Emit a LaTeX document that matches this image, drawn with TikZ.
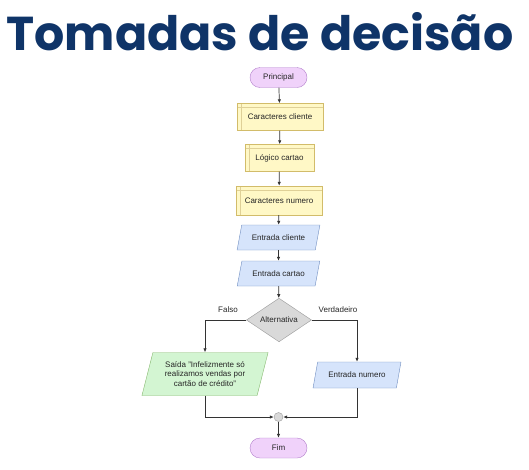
\documentclass[tikz,border=0pt]{standalone}
\usepackage{fontspec}
\setmainfont{Liberation Sans}
\newfontfamily\titlefont{Poppins}
\usetikzlibrary{shapes.geometric,arrows.meta}
\definecolor{titleblue}{HTML}{0F3468}
\definecolor{procfill}{HTML}{FFF8C6}
\definecolor{procline}{HTML}{D2BC6A}
\definecolor{iofill}{HTML}{D6E4FB}
\definecolor{ioline}{HTML}{6F8DC0}
\definecolor{outfill}{HTML}{D3F5D2}
\definecolor{outline}{HTML}{86B86F}
\definecolor{termfill}{HTML}{F0D2FA}
\definecolor{termline}{HTML}{B27FCC}
\definecolor{decfill}{HTML}{D9D9D9}
\definecolor{decline}{HTML}{9A9A9A}
\definecolor{wire}{HTML}{333333}
\begin{document}
\begin{tikzpicture}
   [
     x = 1pt, y = -1pt,
     every node/.style = {font=\fontsize{8}{9.5}\selectfont, text=black!85},
     flow/.style       = {draw=wire, line width=0.7pt, -{Latex[length=4pt,width=3.4pt]}},
     terminal/.style   = {draw=termline, fill=termfill, rounded corners=10pt,
                          minimum width=57pt, minimum height=20pt},
     procbox/.style    = {draw=procline, fill=procfill, minimum height=27pt,
                          path picture={
                            \draw[procline!70]
                              ([yshift=-4pt]path picture bounding box.north west) --
                              ([yshift=-4pt]path picture bounding box.north east);
                            \draw[procline!70]
                              ([xshift=4pt]path picture bounding box.north west) --
                              ([xshift=4pt]path picture bounding box.south west);}},
     inbox/.style      = {trapezium, trapezium left angle=75, trapezium right angle=105,
                          trapezium stretches=true, draw=ioline, fill=iofill,
                          minimum height=25pt, inner xsep=0pt},
     outbox/.style     = {inbox, draw=outline, fill=outfill, align=center},
     decision/.style   = {diamond, draw=decline, fill=decfill, inner sep=0pt,
                          minimum width=65pt, minimum height=41pt},
     joint/.style      = {circle, draw=decline, fill=decfill, minimum size=9pt, inner sep=0pt},
     branch/.style     = {font=\fontsize{8}{9.5}\selectfont}
   ]
    \useasboundingbox (0,0) rectangle (529,469);
    % title
    \node (title) at (260,32) {\titlefont\fontsize{47.5}{47.5}\selectfont\bfseries\color{titleblue}Tomadas de decisão};
    % main column
    \node [terminal] (principal) at (278.5,77.5) {Principal};
    \node [procbox, minimum width=86pt] (cliente) at (280,117) {Caracteres cliente};
    \node [procbox, minimum width=69pt] (logico) at (279.5,158) {Lógico cartao};
    \node [procbox, minimum width=86pt, minimum height=29pt] (numero) at (279,200.5) {Caracteres numero};
    \node [inbox, minimum width=83pt] (entcliente) at (278.5,237.5) {Entrada cliente};
    \node [inbox, minimum width=83pt] (entcartao) at (278.5,273.5) {Entrada cartao};
    \node [decision] (alt) at (279,320) {Alternativa};
    % branches
    \node [outbox, minimum width=127pt, minimum height=43pt] (saida) at (205,374)
      {Saída "Infelizmente só\\realizamos vendas por\\cartão de crédito"};
    \node [inbox, minimum width=88pt, minimum height=26pt] (entnumero) at (357,375) {Entrada numero};
    \node [joint] (merge) at (278.5,417) {};
    \node [terminal] (fim) at (278.5,448) {Fim};
    \node [branch] (falso) at (228,310) {Falso};
    \node [branch] (verdadeiro) at (338,310) {Verdadeiro};
    % connectors
    \draw [flow] (principal) -- (cliente);
    \draw [flow] (cliente) -- (logico);
    \draw [flow] (logico) -- (numero);
    \draw [flow] (numero) -- (entcliente);
    \draw [flow] (entcliente) -- (entcartao);
    \draw [flow] (entcartao) -- (alt);
    \draw [flow] (alt.west) -| (saida.north);
    \draw [flow] (alt.east) -| (entnumero.north);
    \draw [flow] (saida.south) |- (merge.west);
    \draw [flow] (entnumero.south) |- (merge.east);
    \draw [flow] (merge) -- (fim);
\end{tikzpicture}
\end{document}
